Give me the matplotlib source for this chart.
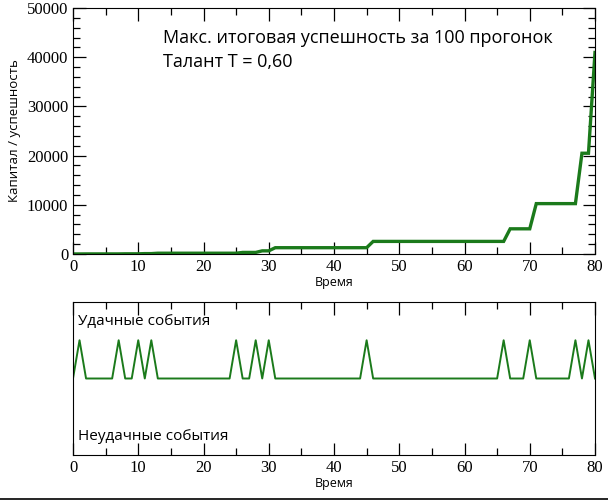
import matplotlib
matplotlib.use("Agg")
import matplotlib.pyplot as plt
from matplotlib.ticker import MultipleLocator
from matplotlib.lines import Line2D

# Capital of the most successful agent at each time step (t = 0..80)
time = list(range(81))
capital = ([10, 10] + [20] * 6 + [40] * 3 + [80] * 2 + [160] * 13 + [320] * 3 +
           [640] * 2 + [1280] * 15 + [2560] * 21 + [5120] * 4 + [10240] * 7 +
           [20480] * 2 + [40960])
# Event signal: 1 = lucky event, -1 = unlucky event, 0 = nothing
lucky_times = [1, 7, 10, 12, 25, 28, 30, 45, 66, 70, 77, 79]
unlucky_times = []
events = [1 if t in lucky_times else (-1 if t in unlucky_times else 0) for t in time]

x_ticks = [0, 10, 20, 30, 40, 50, 60, 70, 80]
y_ticks = [0, 10000, 20000, 30000, 40000, 50000]

green = "#1b7a1b"
serif = "Liberation Serif"
sans = "Open Sans"

fig = plt.figure(figsize=(6.08, 5.0), dpi=100)

ax1 = fig.add_axes([73 / 608, 1 - 254 / 500, (595 - 73) / 608, (254 - 8) / 500])
ax1.plot(time, capital, color=green, lw=2.4, solid_joinstyle="miter")
ax1.set_xlim(0, 80)
ax1.set_ylim(0, 50000)
ax1.set_xticks(x_ticks)
ax1.set_yticks(y_ticks)
ax1.xaxis.set_minor_locator(MultipleLocator(5))
ax1.yaxis.set_minor_locator(MultipleLocator(2000))
ax1.tick_params(which="both", direction="in", top=True, right=True, width=0.9)
ax1.tick_params(which="major", length=9)
ax1.tick_params(which="minor", length=5)
for lab in ax1.get_xticklabels() + ax1.get_yticklabels():
    lab.set_fontfamily(serif)
    lab.set_fontsize(12)
ax1.set_xlabel("Время", family=sans, fontsize=9, labelpad=1)
ax1.set_ylabel("Капитал / успешность", family=sans, fontsize=9.5, labelpad=4)
ax1.text(0.172, 0.877, "Макс. итоговая успешность за 100 прогонок",
         transform=ax1.transAxes, family=sans, fontsize=13, va="center")
ax1.text(0.172, 0.782, "Талант T = 0,60",
         transform=ax1.transAxes, family=sans, fontsize=13, va="center")

ax2 = fig.add_axes([73 / 608, 1 - 455 / 500, (595 - 73) / 608, (455 - 302) / 500])
ax2.plot(time, events, color=green, lw=1.4)
ax2.set_xlim(0, 80)
ax2.set_ylim(-2, 2)
ax2.set_yticks([])
ax2.set_xticks(x_ticks)
ax2.xaxis.set_minor_locator(MultipleLocator(5))
ax2.tick_params(which="both", direction="in", top=True, width=0.9)
ax2.tick_params(which="major", length=9)
ax2.tick_params(which="minor", length=5)
for lab in ax2.get_xticklabels():
    lab.set_fontfamily(serif)
    lab.set_fontsize(12)
ax2.set_xlabel("Время", family=sans, fontsize=9, labelpad=1)
ax2.text(0.01, 0.87, "Удачные события", transform=ax2.transAxes,
         family=sans, fontsize=11, va="center")
ax2.text(0.01, 0.12, "Неудачные события", transform=ax2.transAxes,
         family=sans, fontsize=11, va="center")

fig.add_artist(Line2D([0, 1], [0.002, 0.002], transform=fig.transFigure,
                      color="black", lw=1.2))

fig.savefig("out.png", dpi=100)
